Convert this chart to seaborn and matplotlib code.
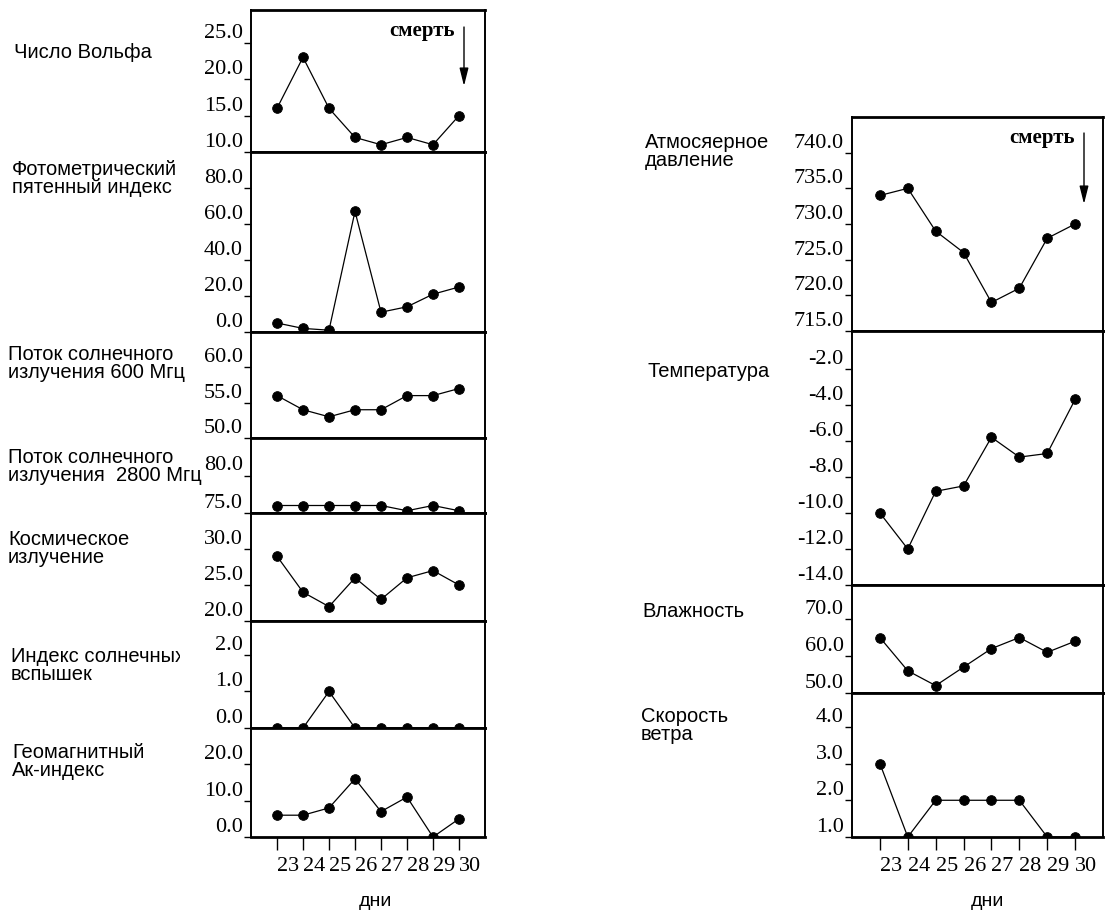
import matplotlib
matplotlib.use("Agg")
import matplotlib.pyplot as plt
import pandas as pd
import seaborn as sns
from matplotlib.ticker import FormatStrFormatter
from matplotlib.transforms import Bbox

# ---- data -------------------------------------------------------------
days = [23, 24, 25, 26, 27, 28, 29, 30]

wolf_number = [16, 23, 16, 12, 11, 12, 11, 15]
spot_index = [5, 2, 1, 67, 11, 14, 21, 25]
flux_600 = [56, 54, 53, 54, 54, 56, 56, 57]
flux_2800 = [76, 76, 76, 76, 76, 75.3, 76, 75.3]
cosmic_rays = [29, 24, 22, 26, 23, 26, 27, 25]
flare_index = [0, 0, 1, 0, 0, 0, 0, 0]
ak_index = [6, 6, 8, 16, 7, 11, 0, 5]

pressure = [734, 735, 729, 726, 719, 721, 728, 730]
temperature = [-10, -12, -8.8, -8.5, -5.8, -6.9, -6.7, -3.7]
humidity = [65, 56, 52, 57, 62, 65, 61, 64]
wind_speed = [3, 1, 2, 2, 2, 2, 1, 1]

left_titles = [
    "Число Вольфа",
    "Фотометрический\nпятенный индекс",
    "Поток солнечного\nизлучения 600 Мгц",
    "Поток солнечного\nизлучения  2800 Мгц",
    "Космическое\nизлучение",
    "Индекс солнечных\nвспышек",
    "Геомагнитный\nАк-индекс",
]
right_titles = [
    "Атмосяерное\nдавление",
    "Температура",
    "Влажность",
    "Скорость\nветра",
]
x_label = "дни"
death_label = "смерть"

# ---- style ------------------------------------------------------------
sns.set_style("ticks")
plt.rcParams["font.family"] = ["Liberation Sans", "DejaVu Sans"]
TICK_FONT = "Liberation Serif"
LABEL_FONT = "Liberation Sans"

W, H = 1105, 915
fig = plt.figure(figsize=(W / 100, H / 100), dpi=100)
fig.patch.set_facecolor("white")


def fx(x):
    return x / W


def fy(y):
    return 1 - y / H


def panel(x0, x1, y_top, y_bot):
    return fig.add_axes([fx(x0), fy(y_bot), (x1 - x0) / W, (y_bot - y_top) / H])


def draw_series(ax, values, ylim, yticks, bottom=False):
    df = pd.DataFrame({"day": days, "value": values})
    sns.lineplot(data=df, x="day", y="value", ax=ax, color="black",
                 marker="o", markersize=7, markeredgecolor="black",
                 markeredgewidth=0.6, linewidth=0.9)
    ax.set_xlim(22, 31)
    ax.set_ylim(*ylim)
    ax.set_yticks(yticks)
    ax.yaxis.set_major_formatter(FormatStrFormatter("%.1f"))
    ax.set_xlabel("")
    ax.set_ylabel("")
    ax.set_facecolor("white")
    for side, sp in ax.spines.items():
        sp.set_visible(True)
        sp.set_color("black")
        sp.set_linewidth(2.0 if side in ("top", "bottom") else 1.4)
    ax.tick_params(axis="y", direction="out", length=5, width=1.0, pad=1,
                   labelsize=16, colors="black")
    for lab in ax.get_yticklabels():
        lab.set_fontfamily(TICK_FONT)
        lab.set_va("bottom")
    if bottom:
        ax.set_xticks(days)
        ax.set_xticklabels([str(d) for d in days])
        ax.tick_params(axis="x", direction="out", length=9.5, width=1.0,
                       pad=5, labelsize=16, colors="black")
        for lab in ax.get_xticklabels():
            lab.set_fontfamily(TICK_FONT)
            lab.set_ha("left")
    else:
        ax.set_xticks(days)
        ax.tick_params(axis="x", bottom=False, labelbottom=False)


# ---- left column: solar / geophysical indices ---------------------------
LX0, LX1 = 251, 485
left_edges = [10, 152, 332, 438, 513, 621, 728, 837]
left_series = [wolf_number, spot_index, flux_600, flux_2800,
               cosmic_rays, flare_index, ak_index]
left_limits = [(10, 29.5), (0, 100), (50, 65), (75, 85),
               (20, 35), (0, 2.93), (0, 30)]
left_ticks = [[10, 15, 20, 25], [0, 20, 40, 60, 80], [50, 55, 60], [75, 80],
              [20, 25, 30], [0, 1, 2], [0, 10, 20]]
left_title_pos = [(14, 43), (12, 160), (8, 345), (8, 448),
                  (8, 530), (11, 647), (12, 743)]

left_axes = []
for i, vals in enumerate(left_series):
    ax = panel(LX0, LX1, left_edges[i], left_edges[i + 1])
    draw_series(ax, vals, left_limits[i], left_ticks[i],
                bottom=(i == len(left_series) - 1))
    left_axes.append(ax)

# ---- right column: weather ---------------------------------------------
RX0, RX1 = 852, 1103
right_edges = [117, 331, 585, 693, 837]
right_series = [pressure, temperature, humidity, wind_speed]
right_limits = [(715, 745), (-14, 0.1), (50, 79.2), (1, 4.92)]
right_ticks = [[715, 720, 725, 730, 735, 740],
               [-14, -12, -10, -8, -6, -4, -2],
               [50, 60, 70], [1, 2, 3, 4]]
right_title_pos = [(645, 133), (647, 362), (642, 602), (641, 707)]

right_axes = []
for i, vals in enumerate(right_series):
    ax = panel(RX0, RX1, right_edges[i], right_edges[i + 1])
    draw_series(ax, vals, right_limits[i], right_ticks[i],
                bottom=(i == len(right_series) - 1))
    right_axes.append(ax)

# ---- row captions -----------------------------------------------------
renderer = fig.canvas.get_renderer()
for (x, y), title in zip(left_title_pos + right_title_pos,
                         left_titles + right_titles):
    t = fig.text(fx(x), fy(y), title, ha="left", va="top", fontsize=14.5,
                 family=LABEL_FONT, linespacing=0.95, color="black")
    if title.startswith("Индекс"):
        # the caption runs into the tick labels; its last letter is cut off
        probe = fig.text(fx(x), fy(y), "Индекс солнечны", ha="left",
                         va="top", fontsize=14.5, family=LABEL_FONT)
        cut = probe.get_window_extent(renderer=renderer).x1 + 5
        probe.remove()
        t.set_clip_box(Bbox.from_extents(0, 0, cut, H))
        t.set_clip_on(True)

# ---- axis names ---------------------------------------------------------
for cx in (375, 987):
    fig.text(fx(cx), fy(902), x_label, ha="center", va="center",
             fontsize=14, family=LABEL_FONT, color="black")

# ---- "death" marker on the top panel of each column ---------------------
for (tx, ty, ax_x, a_y0, a_y1) in [(455, 36, 464, 27, 86),
                                   (1075, 143, 1084, 133, 204)]:
    fig.text(fx(tx), fy(ty), death_label, ha="right", va="baseline",
             fontsize=15, family=TICK_FONT, fontweight="bold", color="black")
    fig.add_artist(plt.Annotation(
        "", xy=(fx(ax_x), fy(a_y1)), xytext=(fx(ax_x), fy(a_y0)),
        xycoords="figure fraction", textcoords="figure fraction",
        arrowprops=dict(arrowstyle="-|>,head_length=0.6,head_width=0.15",
                        color="black", lw=1.0, mutation_scale=18,
                        shrinkA=0, shrinkB=0)))

fig.savefig("out.png", dpi=100, facecolor="white")
